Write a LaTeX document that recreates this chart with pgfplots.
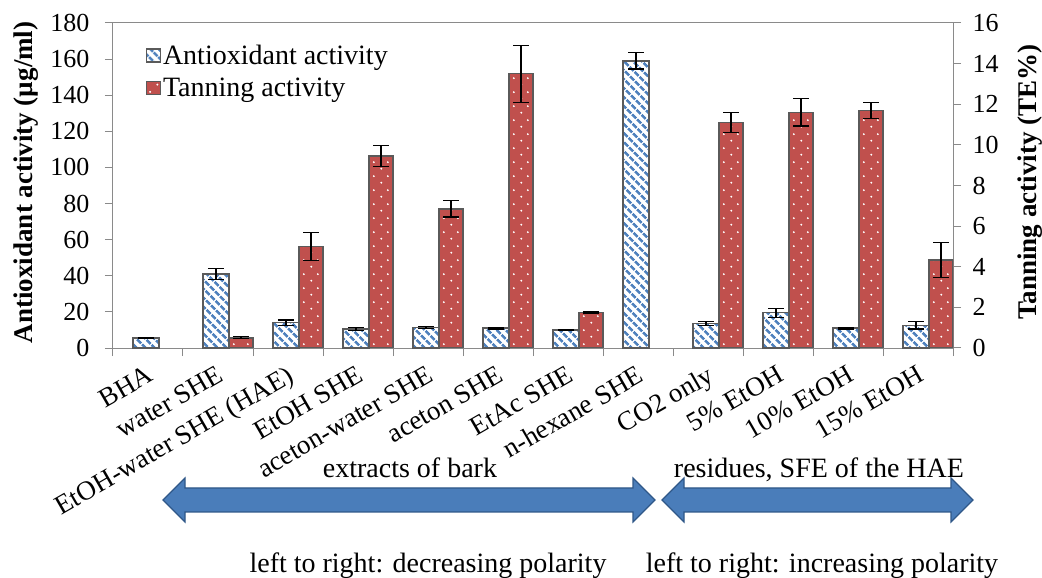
\documentclass[border=0pt]{standalone}
\usepackage{fontspec}
\setmainfont{Liberation Serif}
\usepackage{pgfplots}
\usepackage{pgfplotstable}
\pgfplotsset{compat=1.18}
\usetikzlibrary{patterns.meta}

\definecolor{blueC}{HTML}{4F81BD}
\definecolor{redC}{HTML}{C0504D}
\definecolor{edgeC}{HTML}{5A5A5A}
\definecolor{axgray}{HTML}{8A8A8A}
\definecolor{arrowfill}{HTML}{4A7DBA}
\definecolor{arrowdraw}{HTML}{2F5788}

\tikzdeclarepattern{
  name=wdots,
  type=uncolored,
  bottom left={(0pt,0pt)},
  top right={(14pt,14pt)},
  tile size={(14pt,14pt)},
  code={
    \fill (3.5pt,3.5pt) circle (1.1pt);
    \fill (10.5pt,10.5pt) circle (1.1pt);
  }
}

\tikzset{
  antistyle/.style={draw=edgeC, line width=1.4pt,
    pattern={Lines[angle=-45,distance=6.5pt,line width=3pt]}, pattern color=blueC},
  tanstyle/.style={draw=edgeC, line width=1.4pt, fill=redC,
    postaction={pattern=wdots, pattern color=white}},
}

\pgfplotstableread{
x y e
0 5.5 0.3
1 41 3
2 14 1.5
3 10.5 1
4 11.5 0.5
5 11 0.5
6 10 0.3
7 159 4.5
8 13.5 1
9 19.5 2.5
10 11 0.5
11 12.5 2
}\antiox

\pgfplotstableread{
x y e
1 0.5 0.05
2 5.0 0.7
3 9.45 0.5
4 6.85 0.4
5 13.5 1.4
6 1.75 0.03
8 11.1 0.5
9 11.6 0.67
10 11.7 0.4
11 4.33 0.85
}\tanning

\pgfplotsset{
  mybase/.style={
    scale only axis, width=840pt, height=325pt,
    at={(0pt,0pt)}, anchor=south west,
    xmin=-0.5, xmax=11.5, ymin=0,
    axis line style={draw=axgray, line width=1pt},
    every tick/.style={draw=axgray, line width=1pt},
    major tick length=8pt, tick align=outside,
    ybar,
    /pgf/number format/assume math mode=true,
    yticklabel style={font=\fontsize{26}{30}\selectfont},
    ylabel style={font=\fontsize{27}{32}\selectfont\bfseries},
    legend image code/.code={\draw[##1] (0pt,-6.5pt) rectangle (14pt,6.5pt);},
  },
  myerr/.style={
    error bars/.cd, y dir=both, y explicit,
    error bar style={black, line width=1.2pt},
    error mark options={rotate=90, mark size=8pt, black, line width=1.2pt},
  },
}

\begin{document}
\begin{tikzpicture}
\path[use as bounding box] (-113pt,-230pt) rectangle (929pt,348pt);

\begin{axis}[mybase,
  ymax=180, ytick={0,20,...,180}, ytick pos=left,
  yticklabel style={xshift=-12pt},
  xtick={-0.5,0.5,...,11.5}, xticklabels={}, xtick pos=left,
  extra x ticks={0,...,11},
  extra x tick labels={BHA, water SHE, EtOH-water SHE (HAE), EtOH SHE, aceton-water SHE, aceton SHE, EtAc SHE, n-hexane SHE, CO2 only, 5\% EtOH, 10\% EtOH, 15\% EtOH},
  extra x tick style={major tick length=0pt},
  xticklabel style={yshift=-16pt, xshift=-2pt, rotate=30, anchor=north east, inner sep=0pt,
    font=\fontsize{27}{32}\selectfont},
  bar width=26pt,
  ylabel={Antioxidant activity (µg/ml)},
  ylabel style={at={(axis description cs:-0.1036,0.51)}, anchor=center},
  legend style={at={(axis description cs:0.035,0.945)}, anchor=north west,
    draw=none, fill=none, font=\fontsize{28}{32}\selectfont,
    row sep=8pt},
  legend cell align=left,
]
\addplot[antistyle, bar shift=-2pt, myerr] table[x=x, y=y, y error=e] {\antiox};
\addlegendentry{Antioxidant activity}
\addlegendimage{tanstyle}
\addlegendentry{Tanning activity}
\end{axis}

\begin{axis}[mybase,
  ymax=16, ytick={0,2,...,16}, ytick pos=right,
  yticklabel style={xshift=8pt},
  hide x axis,
  bar width=24pt,
  ylabel={Tanning activity (TE\%)},
  ylabel style={at={(axis description cs:1.092,0.51)}, anchor=center, rotate=0},
]
\addplot[tanstyle, bar shift=23pt, myerr] table[x=x, y=y, y error=e] {\tanning};
\end{axis}

% annotation arrows
\path[draw=arrowdraw, line width=1.2pt, fill=arrowfill]
  (50pt,-152pt) -- (72pt,-130pt) -- (72pt,-140pt) -- (520pt,-140pt) -- (520pt,-130pt)
  -- (542pt,-152pt) -- (520pt,-174pt) -- (520pt,-164pt) -- (72pt,-164pt) -- (72pt,-174pt) -- cycle;
\path[draw=arrowdraw, line width=1.2pt, fill=arrowfill]
  (549pt,-152pt) -- (571pt,-130pt) -- (571pt,-140pt) -- (838pt,-140pt) -- (838pt,-130pt)
  -- (860pt,-152pt) -- (838pt,-174pt) -- (838pt,-164pt) -- (571pt,-164pt) -- (571pt,-174pt) -- cycle;

\node[anchor=base, inner sep=0pt, font=\fontsize{28}{32}\selectfont] at (297pt,-130pt) {extracts of bark};
\node[anchor=base, inner sep=0pt, font=\fontsize{28}{32}\selectfont] at (706pt,-130pt) {residues, SFE of the HAE};
\node[anchor=base, inner sep=0pt, font=\fontsize{28}{32}\selectfont] at (315pt,-224pt) {left to right: decreasing polarity};
\node[anchor=base, inner sep=0pt, font=\fontsize{28}{32}\selectfont] at (709pt,-224pt) {left to right: increasing polarity};
\end{tikzpicture}
\end{document}
